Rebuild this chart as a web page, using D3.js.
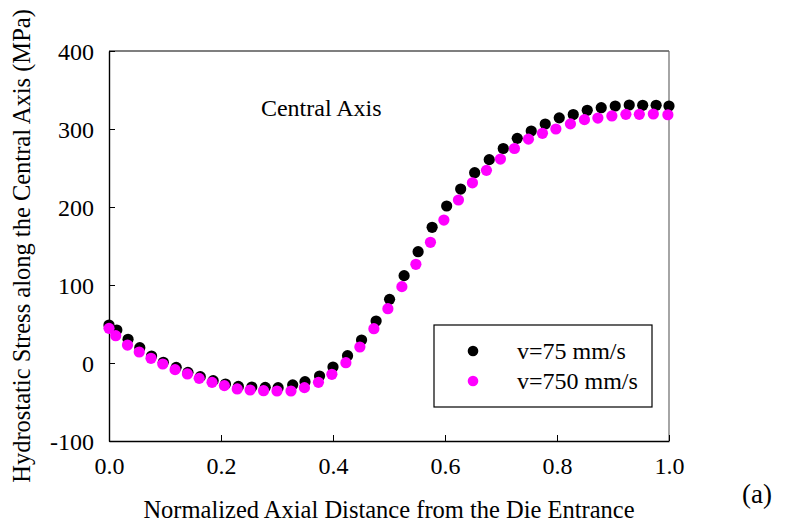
<!DOCTYPE html>
<html>
<head>
<meta charset="utf-8">
<script src="https://cdn.jsdelivr.net/npm/d3@7"></script>
<style>
  html, body { margin: 0; padding: 0; background: #fff; }
  svg { display: block; }
  svg text { font-family: "Liberation Serif", "Times New Roman", serif !important; fill: #000; }
</style>
</head>
<body>
<svg id="chart" width="808" height="527"></svg>
<script>
// Normalized axial position and hydrostatic stress (MPa) along the central axis
const xSlow = [0.000, 0.014, 0.034, 0.055, 0.076, 0.097, 0.120, 0.141, 0.163, 0.186,
  0.208, 0.231, 0.255, 0.279, 0.302, 0.328, 0.350, 0.376, 0.400, 0.426,
  0.451, 0.477, 0.501, 0.527, 0.552, 0.577, 0.603, 0.628, 0.653, 0.679,
  0.704, 0.729, 0.754, 0.779, 0.804, 0.829, 0.854, 0.879, 0.904, 0.929,
  0.953, 0.977, 1.000];
const stressSlow = [48.7, 42.3, 30.4, 19.6, 9.0, 0.9, -5.6, -12.0, -17.5, -22.6,
  -27.0, -30.0, -30.8, -31.2, -31.6, -28.0, -24.0, -16.7, -5.1, 9.4,
  29.5, 53.8, 81.6, 112.0, 142.7, 174.0, 201.3, 223.0, 244.0, 260.7,
  275.0, 288.0, 297.4, 306.4, 314.3, 318.5, 324.0, 327.3, 329.5, 330.8,
  330.4, 330.4, 329.5];

const xFast = [0.000, 0.012, 0.033, 0.054, 0.075, 0.096, 0.118, 0.140, 0.161, 0.184,
  0.206, 0.229, 0.252, 0.276, 0.300, 0.325, 0.349, 0.374, 0.398, 0.423,
  0.448, 0.473, 0.498, 0.523, 0.548, 0.574, 0.598, 0.624, 0.649, 0.674,
  0.699, 0.724, 0.749, 0.774, 0.798, 0.824, 0.849, 0.873, 0.898, 0.923,
  0.947, 0.972, 0.998];
const stressFast = [44.4, 35.0, 23.0, 14.1, 6.0, -1.3, -8.5, -14.0, -19.7, -24.8,
  -29.0, -33.3, -34.6, -35.5, -35.9, -35.9, -31.6, -24.8, -14.5, 0.4,
  20.5, 44.0, 69.6, 97.9, 126.5, 154.7, 183.3, 209.0, 231.0, 247.0,
  261.5, 275.0, 287.0, 294.5, 300.0, 306.6, 312.0, 314.0, 316.7, 318.8,
  318.8, 319.2, 318.3];

const seriesNames = ["v=75 mm/s", "v=750 mm/s"];
const seriesColors = ["#000000", "#ff00ff"];
const xTicks = [0, 0.2, 0.4, 0.6, 0.8, 1.0];
const xTickLabels = ["0.0", "0.2", "0.4", "0.6", "0.8", "1.0"];
const yTicks = [-100, 0, 100, 200, 300, 400];
const yTickLabels = ["-100", "0", "100", "200", "300", "400"];

const svg = d3.select("#chart");
const plotLeft = 109, plotRight = 669, plotTop = 51, plotBottom = 441;
const serif = "Liberation Serif, Times New Roman, serif";

const x = d3.scaleLinear().domain([0, 1]).range([plotLeft, plotRight]);
const y = d3.scaleLinear().domain([-100, 400]).range([plotBottom, plotTop]);

// frame
svg.append("line").attr("x1", plotLeft).attr("x2", plotRight).attr("y1", plotTop).attr("y2", plotTop)
  .attr("stroke", "#000").attr("stroke-width", 1.2);
svg.append("line").attr("x1", plotRight).attr("x2", plotRight).attr("y1", plotTop).attr("y2", plotBottom)
  .attr("stroke", "#6a6a6a").attr("stroke-width", 1.2);

// axes with inward ticks
const xAxis = svg.append("g").attr("transform", `translate(0,${plotBottom})`)
  .call(d3.axisBottom(x).tickValues(xTicks).tickFormat((d, i) => xTickLabels[i])
    .tickSizeInner(-6).tickSizeOuter(0).tickPadding(16));
const yAxis = svg.append("g").attr("transform", `translate(${plotLeft},0)`)
  .call(d3.axisLeft(y).tickValues(yTicks).tickFormat((d, i) => yTickLabels[i])
    .tickSizeInner(-6).tickSizeOuter(0).tickPadding(15));

[xAxis, yAxis].forEach(g => {
  g.attr("font-family", serif).attr("font-size", 24);
  g.select(".domain").attr("stroke", "#000").attr("stroke-width", 1.4);
  g.selectAll(".tick line").attr("stroke", "#000").attr("stroke-width", 1);
  g.selectAll(".tick text").attr("font-size", 24).attr("font-family", serif).attr("fill", "#000");
});
xAxis.selectAll(".tick text").attr("dy", "0.71em");
yAxis.selectAll(".tick text").attr("dy", "0.34em");

// data points: slow series first, fast series drawn on top
const series = [
  { x: xSlow, v: stressSlow, color: seriesColors[0] },
  { x: xFast, v: stressFast, color: seriesColors[1] }
];
series.forEach(s => {
  svg.append("g").selectAll("circle")
    .data(s.v.map((v, i) => [s.x[i], v]))
    .join("circle")
    .attr("cx", d => x(d[0]))
    .attr("cy", d => y(d[1]))
    .attr("r", 5.6)
    .attr("fill", s.color);
});

// annotation
svg.append("text").attr("x", x(0.379)).attr("y", y(317)).attr("text-anchor", "middle")
  .attr("font-size", 24).text("Central Axis");

// legend
const lg = svg.append("g");
lg.append("rect").attr("x", 434).attr("y", 325).attr("width", 218).attr("height", 82)
  .attr("fill", "#fff").attr("stroke", "#000").attr("stroke-width", 1.2);
seriesNames.forEach((name, i) => {
  const cy = 351 + i * 30;
  lg.append("circle").attr("cx", 473).attr("cy", cy).attr("r", 5.3).attr("fill", seriesColors[i]);
  lg.append("text").attr("x", 517).attr("y", cy + 8).attr("font-size", 24).text(name);
});

// axis titles
svg.append("text").attr("x", (plotLeft + plotRight) / 2).attr("y", 518).attr("text-anchor", "middle")
  .attr("font-size", 24.5).text("Normalized Axial Distance from the Die Entrance");
svg.append("text")
  .attr("transform", `translate(30,${(plotTop + plotBottom) / 2}) rotate(-90)`)
  .attr("text-anchor", "middle").attr("font-size", 24.5)
  .text("Hydrostatic Stress along the Central Axis (MPa)");

svg.append("text").attr("x", 742).attr("y", 503).attr("font-size", 27).text("(a)");
</script>
</body>
</html>
